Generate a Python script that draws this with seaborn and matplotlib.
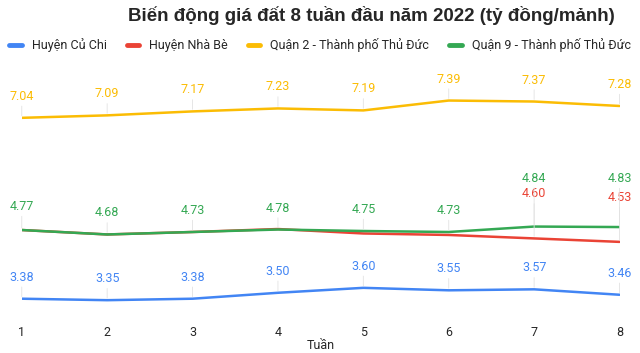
import matplotlib
matplotlib.use("Agg")
import matplotlib.pyplot as plt
import pandas as pd
import seaborn as sns

tuan = [1, 2, 3, 4, 5, 6, 7, 8]
cu_chi = [3.38, 3.35, 3.38, 3.50, 3.60, 3.55, 3.57, 3.46]
nha_be = [4.77, 4.68, 4.73, 4.79, 4.70, 4.67, 4.60, 4.53]
quan_2 = [7.04, 7.09, 7.17, 7.23, 7.19, 7.39, 7.37, 7.28]
quan_9 = [4.77, 4.68, 4.73, 4.78, 4.75, 4.73, 4.84, 4.83]

ten = ["Huyện Củ Chi", "Huyện Nhà Bè", "Quận 2 - Thành phố Thủ Đức", "Quận 9 - Thành phố Thủ Đức"]
mau = ["#4285F4", "#EA4335", "#FBBC04", "#34A853"]

df = pd.DataFrame({
    "Tuần": tuan * 4,
    "giá": cu_chi + nha_be + quan_2 + quan_9,
    "khu": [t for t in ten for _ in tuan],
})

sns.set_style("white")
plt.rcParams["font.family"] = ["Roboto", "DejaVu Sans"]

fig = plt.figure(figsize=(6.4, 3.53), dpi=100)
ax = fig.add_axes([0.034, 0.1006, 0.934, 0.644])

sns.lineplot(data=df, x="Tuần", y="giá", hue="khu", hue_order=ten, palette=mau,
             linewidth=1.8, ax=ax, legend=False)

# nhãn giá trị: độ lệch theo điểm ảnh, None = nhãn bị che trong bản gốc
lech = {
    0: [15] * 8,
    1: [None] * 6 + [38, 38],
    2: [15] * 8,
    3: [17, 15, 15, 15, 15, 15, 42, 42],
}
series = [cu_chi, nha_be, quan_2, quan_9]
for i in [0, 2, 1, 3]:
    for j, (x, y) in enumerate(zip(tuan, series[i])):
        if lech[i][j] is None:
            continue
        ax.annotate(f"{y:.2f}", xy=(x, y), xytext=(0, lech[i][j] * 0.72),
                    textcoords="offset points", ha="center", va="bottom",
                    fontsize=9, color=mau[i],
                    arrowprops=dict(arrowstyle="-", color="#e2e2e2", lw=0.6,
                                    shrinkA=0, shrinkB=1.5))

ax.set_xlim(1, 8)
ax.set_ylim(3.0, 7.6)
ax.set_xticks(tuan)
ax.set_yticks([])
ax.set_ylabel("")
ax.set_xlabel("Tuần", fontsize=9, labelpad=0)
ax.tick_params(axis="x", length=0, pad=6, labelsize=9)
sns.despine(ax=ax, left=True, bottom=True)

handles = [plt.Line2D([], [], color=c, lw=3.5, solid_capstyle="round") for c in mau]
fig.legend(handles, ten, loc="center", bbox_to_anchor=(0.5, 0.872), ncol=4, frameon=False,
           fontsize=9, handlelength=1.0, handletextpad=0.8, columnspacing=1.6)

fig.text(0.58, 0.955, "Biến động giá đất 8 tuần đầu năm 2022 (tỷ đồng/mảnh)",
         ha="center", va="center", fontsize=13.5, fontweight="bold",
         family=["Liberation Sans", "DejaVu Sans"])

fig.savefig("out.png", dpi=100)
